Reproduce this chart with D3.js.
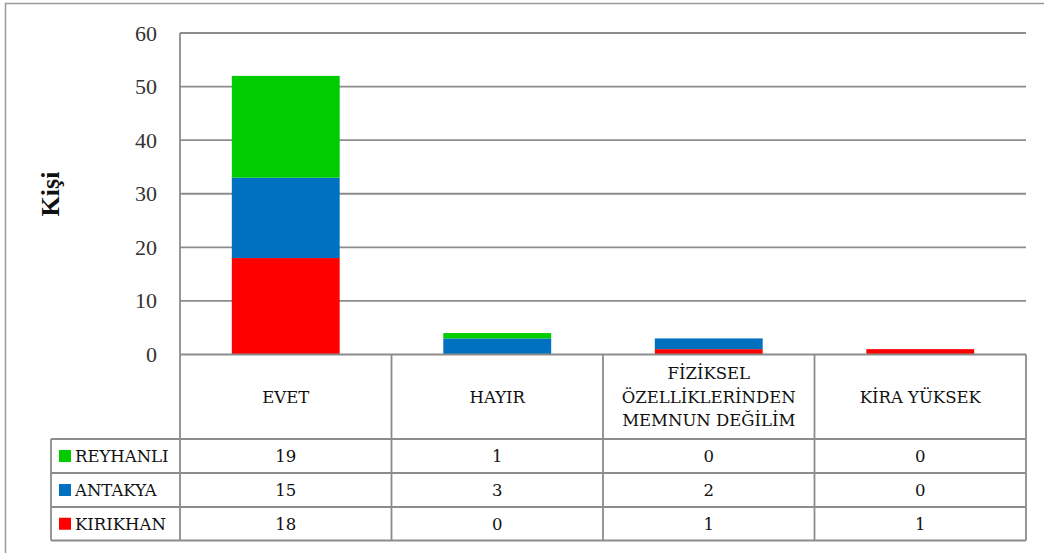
<!DOCTYPE html>
<html><head><meta charset="utf-8">
<script src="https://cdn.jsdelivr.net/npm/d3@7"></script>
<style>body{margin:0;background:#fff}svg{display:block}</style>
</head><body><div id="c"></div>
<script>
const categories = [["EVET"],["HAYIR"],["FİZİKSEL","ÖZELLİKLERİNDEN","MEMNUN DEĞİLİM"],["KİRA YÜKSEK"]];
const seriesNames = ["REYHANLI","ANTAKYA","KIRIKHAN"];
const reyhanli = [19,1,0,0];
const antakya = [15,3,2,0];
const kirikhan = [18,0,1,1];
const colors = ["#00CC00","#0070C0","#FF0000"];
const yTicks = [0,10,20,30,40,50,60];
const yTitle = "Kişi";

const W=1044,H=553;
const svg=d3.select("#c").append("svg").attr("width",W).attr("height",H);
const L=180,R=1026,T=33,Z=354.5;
const rowY=[Z,439,473,507,540.5];
const legL=51;
const gray="#8c8c8c";

// outer frame
svg.append("rect").attr("x",5.5).attr("y",3.5).attr("width",1050).attr("height",560)
  .attr("fill","none").attr("stroke","#9a9a9a").attr("stroke-width",1.5);

const keys=categories.map((c,i)=>i);
const x=d3.scaleBand().domain(keys).range([L,R]).paddingInner(0).paddingOuter(0);
const y=d3.scaleLinear().domain([0,60]).range([Z,T]);

// gridlines
svg.append("g").selectAll("line").data(yTicks.filter(d=>d>0)).join("line")
  .attr("x1",L).attr("x2",R).attr("y1",d=>y(d)).attr("y2",d=>y(d))
  .attr("stroke",gray).attr("stroke-width",1.8);

// stacked data: bottom KIRIKHAN, then ANTAKYA, then REYHANLI
const vals=[reyhanli,antakya,kirikhan];
const rows=keys.map(i=>({i,REYHANLI:reyhanli[i],ANTAKYA:antakya[i],KIRIKHAN:kirikhan[i]}));
const stack=d3.stack().keys(["KIRIKHAN","ANTAKYA","REYHANLI"])(rows);
const colorOf={REYHANLI:colors[0],ANTAKYA:colors[1],KIRIKHAN:colors[2]};
const bw=x.bandwidth()*0.51;
stack.forEach(s=>{
  svg.append("g").selectAll("rect").data(s).join("rect")
    .attr("x",d=>x(d.data.i)+(x.bandwidth()-bw)/2).attr("width",bw)
    .attr("y",d=>y(d[1])).attr("height",d=>y(d[0])-y(d[1]))
    .attr("fill",colorOf[s.key]);
});

// y axis line
svg.append("line").attr("x1",L).attr("x2",L).attr("y1",T).attr("y2",Z).attr("stroke",gray).attr("stroke-width",1.8);

// tick labels
const yAxis=d3.axisLeft(y).tickValues(yTicks).tickSize(0).tickPadding(23);
const ga=svg.append("g").attr("transform",`translate(${L},0)`).call(yAxis)
  .attr("font-family","'Liberation Serif','Times New Roman',serif").attr("font-size",22);
ga.select(".domain").remove();
ga.selectAll("text").style("font-family","'Liberation Serif','Times New Roman',serif")
  .style("font-size","22px").attr("fill","#333");

// y title
svg.append("text").attr("transform","translate(59,194) rotate(-90)")
  .attr("text-anchor","middle").attr("font-family","'Liberation Serif',serif")
  .attr("font-weight","bold").attr("font-size",26).attr("fill","#111").text(yTitle);

// table lines
const tg=svg.append("g").attr("stroke",gray).attr("stroke-width",1.8);
tg.append("line").attr("x1",L).attr("x2",R).attr("y1",rowY[0]).attr("y2",rowY[0]);
for(let k=1;k<rowY.length;k++) tg.append("line").attr("x1",legL).attr("x2",R).attr("y1",rowY[k]).attr("y2",rowY[k]);
const vx=keys.map(i=>x(i)).concat([R]);
vx.forEach(v=>tg.append("line").attr("x1",v).attr("x2",v).attr("y1",rowY[0]).attr("y2",rowY[4]));
tg.append("line").attr("x1",legL).attr("x2",legL).attr("y1",rowY[1]).attr("y2",rowY[4]);

const font="'DejaVu Serif',serif", fs=16.5;
// header labels
keys.forEach(i=>{
  const lines=categories[i], lh=23.5;
  const cy=(rowY[0]+rowY[1])/2;
  lines.forEach((t,j)=>{
    svg.append("text").attr("x",x(i)+x.bandwidth()/2)
      .attr("y",cy+(j-(lines.length-1)/2)*lh).attr("dy","0.35em")
      .attr("text-anchor","middle").attr("font-family",font).attr("font-size",fs).attr("fill","#111").text(t);
  });
});
// value rows
vals.forEach((arr,r)=>{
  const cy=(rowY[r+1]+rowY[r+2])/2;
  svg.append("rect").attr("x",59).attr("y",cy-6).attr("width",12).attr("height",12).attr("fill",colors[r]);
  svg.append("text").attr("x",75).attr("y",cy).attr("dy","0.35em").attr("font-family",font)
    .attr("font-size",fs).attr("fill","#111").text(seriesNames[r]);
  arr.forEach((v,i)=>{
    svg.append("text").attr("x",x(i)+x.bandwidth()/2).attr("y",cy).attr("dy","0.35em")
      .attr("text-anchor","middle").attr("font-family",font).attr("font-size",fs).attr("fill","#111").text(v);
  });
});
</script></body></html>
